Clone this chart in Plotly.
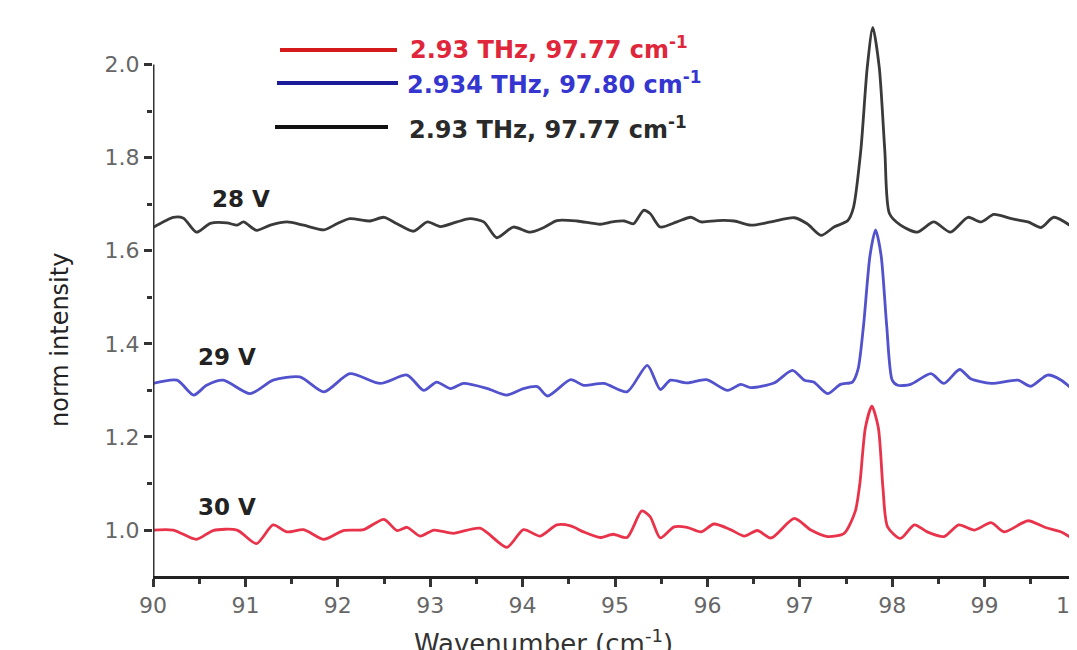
import plotly.graph_objects as go

# ---- data ----
wn_28 = [90.00, 90.22, 90.33, 90.47, 90.62, 90.80, 90.91, 90.98, 91.12, 91.27, 91.45, 91.63, 91.85, 91.99,
         92.13, 92.35, 92.50, 92.64, 92.82, 92.97, 93.11, 93.29, 93.43, 93.58, 93.72, 93.90, 94.08, 94.23,
         94.37, 94.59, 94.84, 94.97, 95.10, 95.20, 95.31, 95.38, 95.49, 95.67, 95.82, 95.93, 96.11, 96.29,
         96.47, 96.69, 96.94, 97.08, 97.23, 97.37, 97.52, 97.58, 97.66, 97.73, 97.79, 97.86, 97.92, 97.97,
         98.09, 98.27, 98.45, 98.63, 98.82, 98.96, 99.10, 99.29, 99.47, 99.61, 99.75, 100.00]
int_28 = [1.650, 1.672, 1.670, 1.640, 1.659, 1.660, 1.655, 1.662, 1.644, 1.655, 1.662, 1.655, 1.645, 1.658,
          1.669, 1.664, 1.672, 1.658, 1.642, 1.662, 1.652, 1.662, 1.669, 1.662, 1.628, 1.651, 1.640, 1.650,
          1.665, 1.664, 1.657, 1.662, 1.664, 1.658, 1.687, 1.680, 1.651, 1.662, 1.672, 1.662, 1.665, 1.664,
          1.655, 1.662, 1.671, 1.658, 1.633, 1.651, 1.665, 1.692, 1.815, 1.994, 2.080, 1.994, 1.815, 1.680,
          1.655, 1.640, 1.662, 1.640, 1.672, 1.662, 1.678, 1.669, 1.662, 1.650, 1.672, 1.644]

wn_29 = [90.00, 90.26, 90.44, 90.58, 90.76, 91.05, 91.30, 91.59, 91.85, 92.13, 92.46, 92.75, 92.93, 93.07,
         93.22, 93.36, 93.62, 93.83, 94.01, 94.16, 94.27, 94.52, 94.66, 94.88, 95.13, 95.35, 95.49, 95.60,
         95.78, 95.99, 96.22, 96.36, 96.47, 96.72, 96.92, 97.05, 97.15, 97.30, 97.44, 97.57, 97.63, 97.69,
         97.76, 97.82, 97.88, 97.94, 98.00, 98.06, 98.20, 98.42, 98.56, 98.73, 98.85, 99.07, 99.36, 99.50,
         99.68, 99.83, 100.00]
int_29 = [1.315, 1.322, 1.290, 1.311, 1.322, 1.293, 1.322, 1.329, 1.297, 1.336, 1.315, 1.333, 1.300, 1.318,
          1.304, 1.315, 1.304, 1.290, 1.304, 1.308, 1.288, 1.323, 1.311, 1.315, 1.297, 1.354, 1.302, 1.322,
          1.316, 1.323, 1.300, 1.313, 1.306, 1.316, 1.343, 1.322, 1.318, 1.293, 1.313, 1.318, 1.345, 1.440,
          1.590, 1.645, 1.590, 1.440, 1.322, 1.311, 1.313, 1.336, 1.315, 1.345, 1.325, 1.315, 1.322, 1.309,
          1.333, 1.322, 1.293]

wn_30 = [90.00, 90.22, 90.47, 90.65, 90.91, 91.12, 91.30, 91.45, 91.63, 91.85, 92.06, 92.28, 92.50, 92.64,
         92.75, 92.89, 93.04, 93.25, 93.54, 93.83, 94.01, 94.19, 94.37, 94.52, 94.66, 94.84, 94.98, 95.13,
         95.29, 95.38, 95.49, 95.64, 95.78, 95.93, 96.07, 96.25, 96.40, 96.54, 96.69, 96.94, 97.12, 97.30,
         97.48, 97.60, 97.65, 97.71, 97.78, 97.85, 97.90, 97.95, 98.09, 98.24, 98.38, 98.56, 98.72, 98.89,
         99.07, 99.21, 99.47, 99.65, 99.83, 100.00]
int_30 = [1.000, 1.000, 0.980, 0.999, 1.000, 0.971, 1.011, 0.996, 1.001, 0.980, 0.999, 1.001, 1.023, 0.999,
          1.006, 0.987, 1.000, 0.993, 1.004, 0.963, 1.001, 0.987, 1.011, 1.009, 0.996, 0.984, 0.991, 0.984,
          1.041, 1.029, 0.983, 1.007, 1.006, 0.996, 1.013, 1.001, 0.987, 0.999, 0.983, 1.025, 1.000, 0.986,
          0.993, 1.040, 1.100, 1.220, 1.266, 1.220, 1.090, 1.007, 0.982, 1.011, 0.996, 0.986, 1.011, 1.000,
          1.016, 0.996, 1.020, 1.006, 0.996, 0.975]

voltage_labels = ["28 V", "29 V", "30 V"]
legend_texts = ["2.93 THz, 97.77 cm<sup>-1</sup>",
                "2.934 THz, 97.80 cm<sup>-1</sup>",
                "2.93 THz, 97.77 cm<sup>-1</sup>"]
x_ticks = [90, 91, 92, 93, 94, 95, 96, 97, 98, 99, 100]
y_ticks = [1.0, 1.2, 1.4, 1.6, 1.8, 2.0]
y_minor = [1.1, 1.3, 1.5, 1.7, 1.9]
x_minor = [90.5, 91.5, 92.5, 93.5, 94.5, 95.5, 96.5, 97.5, 98.5, 99.5]

FONT = "DejaVu Sans"

fig = go.Figure()
fig.add_trace(go.Scatter(x=wn_30, y=int_30, mode="lines", line=dict(color="#e8334a", width=2.8, shape="spline", smoothing=0.7),
                         showlegend=False))
fig.add_trace(go.Scatter(x=wn_29, y=int_29, mode="lines", line=dict(color="#5252cc", width=2.8, shape="spline", smoothing=0.7),
                         showlegend=False))
fig.add_trace(go.Scatter(x=wn_28, y=int_28, mode="lines", line=dict(color="#3a3a3a", width=2.8, shape="spline", smoothing=0.7),
                         showlegend=False))

# plot area in page pixels: x 153..1077, y 10..576 (page has an 8 px body margin)
def px_x(px):
    return (px - 153) / 924.0

def px_y(py):
    return (576 - py) / 566.0

# legend-like lines and texts
leg_lines = [(280, 397, 50, "#d41a1a"), (277, 398, 83, "#1c1c9a"), (275, 388, 127, "#111111")]
leg_colors = ["#e0263a", "#3535cf", "#2a2a2a"]
leg_text_pos = [(408, 48), (405, 83), (407, 128)]
for (x0, x1, yy, c) in leg_lines:
    fig.add_shape(type="line", xref="paper", yref="paper", x0=px_x(x0), x1=px_x(x1), y0=px_y(yy), y1=px_y(yy),
                  line=dict(color=c, width=4))
for txt, col, (tx, ty) in zip(legend_texts, leg_colors, leg_text_pos):
    fig.add_annotation(xref="paper", yref="paper", x=px_x(tx), y=px_y(ty), xanchor="left", yanchor="middle",
                       text="<b>" + txt + "</b>", showarrow=False, font=dict(family=FONT, size=24, color=col))

# voltage labels
for lab, (lx, ly) in zip(voltage_labels, [(90.95, 1.712), (90.80, 1.371), (90.80, 1.049)]):
    fig.add_annotation(x=lx, y=ly, text="<b>" + lab + "</b>", showarrow=False,
                       font=dict(family=FONT, size=23, color="#222222"), xanchor="center", yanchor="middle")

# y axis line (only up to 2.0)
fig.add_shape(type="line", xref="x", yref="y", x0=90, x1=90, y0=0.9013, y1=2.0,
              line=dict(color="#333333", width=3), layer="above")

# axis titles
fig.add_annotation(xref="paper", yref="paper", x=px_x(60), y=px_y(340), text="norm intensity", textangle=-90,
                   showarrow=False, font=dict(family=FONT, size=24, color="#222222"), xanchor="center", yanchor="middle")
fig.add_annotation(xref="paper", yref="paper", x=px_x(543), y=px_y(642), text="Wavenumber (cm<sup>-1</sup>)",
                   showarrow=False, font=dict(family=FONT, size=26, color="#333333"), xanchor="center", yanchor="middle")

fig.update_layout(
    width=1077, height=650,
    margin=dict(l=145, r=8, t=2, b=82, autoexpand=False),
    paper_bgcolor="white", plot_bgcolor="white",
    showlegend=False,
    font=dict(family=FONT),
)
fig.update_xaxes(
    range=[90, 100], showgrid=False, zeroline=False,
    showline=True, linecolor="#222222", linewidth=3,
    ticks="outside", ticklen=8, tickwidth=2.5, tickcolor="#333333",
    tickmode="array", tickvals=x_ticks, ticktext=[str(v) for v in x_ticks],
    tickfont=dict(family=FONT, size=22, color="#666666"),
    ticklabeloverflow="allow",
    minor=dict(tickmode="array", tickvals=x_minor, ticks="outside", ticklen=5, tickwidth=2.5, tickcolor="#333333"),
    automargin=False,
)
fig.update_yaxes(
    range=[0.9013, 2.1173], showgrid=False, zeroline=False, showline=False,
    ticks="outside", ticklen=8, tickwidth=2.5, tickcolor="#333333",
    tickmode="array", tickvals=y_ticks, ticktext=["%.1f" % v for v in y_ticks],
    tickfont=dict(family=FONT, size=22, color="#666666"),
    minor=dict(tickmode="array", tickvals=y_minor, ticks="outside", ticklen=5, tickwidth=2.5, tickcolor="#333333"),
    automargin=False,
)

fig.write_html("out.html")
